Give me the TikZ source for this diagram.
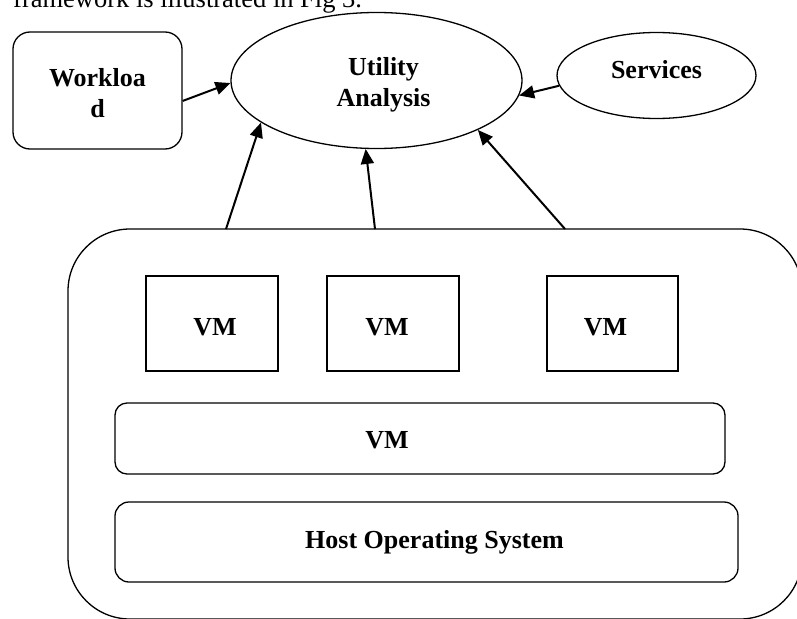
\documentclass[tikz,border=0pt]{standalone}
\usepackage{fontspec}
\setmainfont{Liberation Serif}
\usepackage{tikz}
\usetikzlibrary{shapes.geometric, arrows.meta}

\begin{document}
\begin{tikzpicture}[x=1pt, y=-1pt,
  txt/.style={font=\fontsize{26}{31}\selectfont\bfseries, align=center},
  box/.style={draw, line width=1.3pt, inner sep=0pt, txt},
  oval/.style={box, ellipse},
  vmbox/.style={box, minimum width=132pt, minimum height=95pt},
  arr/.style={line width=2pt, -{Triangle[length=15pt,width=13pt]}}]
\clip (0,0) rectangle (797,618);

\node[anchor=base west, inner sep=0pt, font=\fontsize{26.5}{31}\selectfont] (caption) at (13,8) {framework is illustrated in Fig 3.};

\node[box, rounded corners=17pt, minimum width=169pt, minimum height=117pt,
  label={[txt, yshift=-3pt]center:Workloa\\d}] (work) at (97.5,90.5) {};
\node[oval, minimum width=291pt, minimum height=136pt,
  label={[txt, xshift=7pt, yshift=-4pt]center:Utility\\Analysis}] (util) at (376.5,80.5) {};
\node[oval, minimum width=199pt, minimum height=86pt,
  label={[txt, yshift=6pt]center:Services}] (serv) at (656.5,75.5) {};

\node[box, rounded corners=62pt, minimum width=734pt, minimum height=390pt] (server) at (435,424) {};
\node[vmbox, label={[txt, xshift=3pt, yshift=-4pt]center:VM}] (vm1) at (212,323.5) {};
\node[vmbox, label={[txt, xshift=-6pt, yshift=-4pt]center:VM}] (vm2) at (393,323.5) {};
\node[vmbox, minimum width=131pt, label={[txt, xshift=-7pt, yshift=-4pt]center:VM}] (vm3) at (612.5,323.5) {};
\node[box, rounded corners=12pt, minimum width=610pt, minimum height=71pt,
  label={[txt, xshift=-33pt, yshift=-2pt]center:VM}] (vmm) at (420,438.5) {};
\node[box, rounded corners=14pt, minimum width=623pt, minimum height=80pt,
  label={[txt, xshift=8pt]center:Host Operating System}] (hos) at (426.5,542) {};

\coordinate (s1) at (226,229);
\coordinate (s2) at (375,229);
\coordinate (s3) at (565,229);

\draw[arr] (work.-7) -- (util.181);
\draw[arr] (serv.186) -- (util.354);
\draw[arr] (s1) -- (util.200);
\draw[arr] (s2) -- (util.261);
\draw[arr] (s3) -- (util.334);
\end{tikzpicture}
\end{document}
